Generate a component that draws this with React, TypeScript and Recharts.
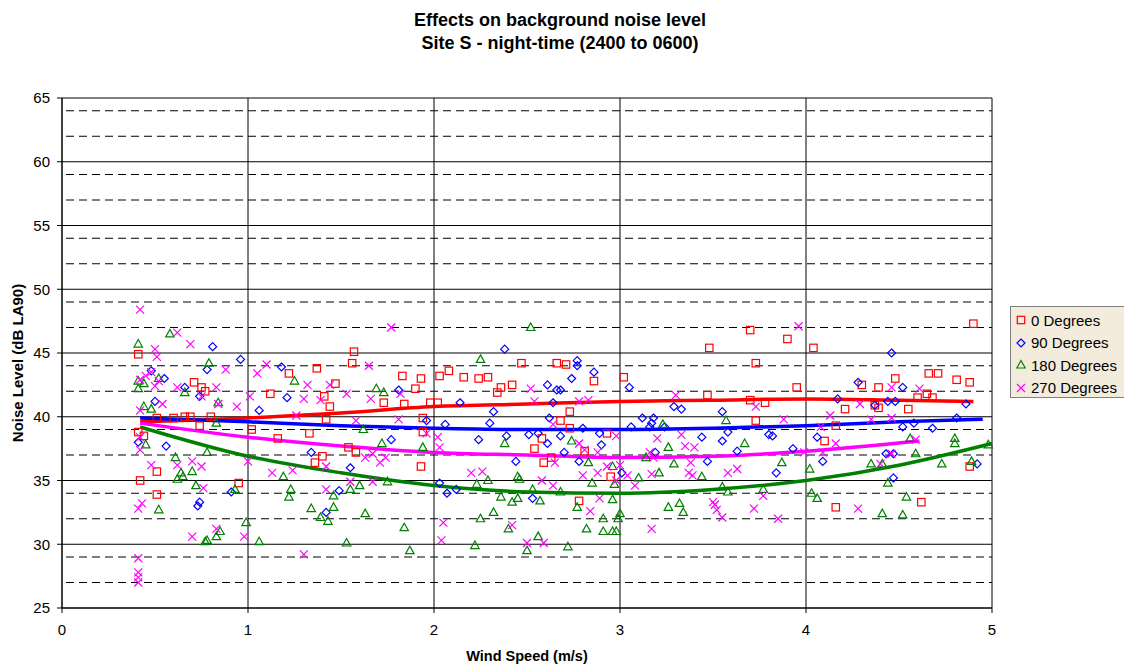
import {
  CartesianGrid,
  ComposedChart,
  Line,
  Scatter,
  XAxis,
  YAxis,
} from "recharts";

// ---- data ----
const xTicks = [0, 1, 2, 3, 4, 5];
const yTicks = [25, 30, 35, 40, 45, 50, 55, 60, 65];
const yMinor = [
  26, 27, 28, 29, 31, 32, 33, 34, 36, 37, 38, 39, 41, 42, 43, 44, 46, 47, 48, 49,
  51, 52, 53, 54, 56, 57, 58, 59, 61, 62, 63, 64,
];

const deg0X = [
  0.41, 0.71, 0.75, 0.77, 0.51, 0.6, 0.66, 0.69, 0.8, 0.74, 0.41, 0.44, 1.02, 0.51, 0.42, 0.51, 0.95,
  1.57, 1.56, 1.22, 1.37, 1.47, 1.83, 1.93, 1.9, 2.03, 1.12, 1.41, 1.44, 1.73, 1.84, 1.98, 2.02, 1.42,
  1.94, 1.33, 1.16, 1.94, 1.54, 1.58, 1.4, 1.36, 1.93,
  2.08, 2.16, 2.24, 2.29, 2.47, 2.66, 2.71, 2.86, 3.02, 2.42, 2.36, 2.34, 2.73, 2.68, 2.73, 2.58, 2.54,
  2.81, 2.63, 2.59, 2.93, 2.95, 2.78,
  3.7, 3.9, 3.48, 4.04, 3.73, 3.95, 3.47, 3.7, 3.78, 3.73,
  4.9, 4.66, 4.71, 4.48, 4.81, 4.88, 4.3, 4.39, 4.65, 4.68, 4.6, 4.37, 4.39, 4.55, 4.21, 4.16, 4.1,
  4.88, 4.16, 4.62,
];
const deg0Y = [
  44.9, 42.7, 42.3, 42.0, 39.9, 39.9, 40.0, 40.0, 40.0, 39.3, 38.8, 38.5, 39.0, 35.7, 35.0, 33.9, 34.8,
  45.1, 44.2, 43.4, 43.8, 42.6, 43.2, 43.0, 42.2, 43.2, 41.8, 41.6, 40.8, 41.1, 41.0, 41.1, 41.1, 39.8,
  39.9, 38.7, 38.3, 38.8, 37.6, 37.2, 36.9, 36.4, 36.1,
  43.6, 43.1, 43.0, 43.1, 44.2, 44.2, 44.1, 42.8, 43.1, 42.5, 42.3, 41.9, 40.4, 39.7, 39.1, 38.3, 37.5,
  37.3, 36.8, 36.4, 38.7, 35.3, 33.4,
  46.8, 46.1, 45.4, 45.4, 44.2, 42.3, 41.7, 41.3, 41.1, 39.7,
  47.3, 43.4, 43.4, 43.0, 42.9, 42.7, 42.5, 42.3, 41.8, 41.5, 41.5, 40.9, 40.7, 40.6, 40.6, 39.3, 38.1,
  36.1, 32.9, 33.3,
];

const deg90X = [
  0.81, 0.96, 0.78, 0.48, 0.55, 0.66, 0.74, 0.5, 0.41, 0.56, 0.91, 0.74, 0.73,
  1.18, 1.21, 1.06, 1.81, 1.96, 1.77, 1.34, 1.55, 1.49, 1.42, 2.03,
  2.38, 2.77, 2.77, 2.86, 2.74, 2.61, 2.66, 2.68, 2.64, 2.14, 2.32, 2.3, 2.06, 2.62, 2.8, 2.89, 2.39,
  2.51, 2.56, 2.68, 2.24, 2.61, 2.9, 2.7, 2.78, 2.44, 3.01, 2.07, 2.12, 2.53, 3.05,
  3.29, 3.33, 3.55, 3.12, 3.18, 3.17, 3.16, 3.06, 3.24, 3.58, 3.44, 3.55, 3.8, 3.82, 3.93, 3.63, 3.19,
  3.47, 3.84,
  4.46, 4.28, 4.52, 4.17, 4.37, 4.44, 4.48, 4.86, 4.81, 4.58, 4.52, 4.68, 4.06, 4.09, 4.43, 4.47, 4.92,
  4.47,
];
const deg90Y = [
  45.5, 44.5, 43.7, 43.6, 43.0, 42.3, 41.6, 41.2, 38.0, 37.7, 34.1, 33.3, 33.0,
  43.9, 41.5, 40.5, 42.1, 39.7, 38.2, 37.2, 36.0, 34.2, 32.5, 34.8,
  45.3, 44.4, 44.0, 43.5, 43.0, 42.5, 42.1, 42.1, 41.1, 41.1, 40.4, 39.5, 39.4, 39.9, 39.1, 38.7, 38.5,
  38.6, 38.7, 38.5, 38.2, 37.9, 37.8, 37.2, 36.5, 36.5, 35.6, 34.0, 34.3, 33.6, 42.3,
  40.8, 40.6, 40.4, 39.9, 39.9, 39.5, 39.2, 39.2, 39.2, 38.8, 38.4, 38.1, 38.6, 38.5, 37.5, 37.3, 37.2,
  36.5, 35.6,
  45.0, 42.7, 42.3, 41.4, 40.9, 41.2, 41.2, 41.0, 39.9, 39.5, 39.2, 39.1, 38.4, 36.5, 37.1, 37.1, 36.3,
  35.2,
];

const deg180X = [
  0.58, 0.41, 0.79, 0.41, 0.44, 0.52, 0.41, 0.66, 0.84, 0.44, 0.48, 0.83, 0.45, 0.78, 0.61, 0.7, 0.64,
  0.62, 0.65, 0.72, 0.93, 0.52, 0.99, 0.85, 0.83, 0.77, 0.78,
  1.25, 1.69, 1.73, 1.62, 1.72, 1.94, 1.19, 1.23, 1.22, 1.75, 1.6, 1.55, 1.46, 1.46, 1.34, 1.39, 1.43,
  1.63, 1.84, 1.06, 1.53, 1.87,
  2.52, 2.25, 2.38, 2.74, 2.83, 2.23, 2.29, 2.45, 2.46, 2.85, 2.97, 2.96, 2.36, 2.45, 2.42, 2.57, 2.53,
  2.68, 2.77, 2.96, 2.32, 2.25, 2.4, 2.91, 2.99, 3.0, 2.82, 2.91, 2.96, 2.98, 2.56, 2.22, 2.5, 2.72,
  3.57, 3.23, 3.26, 3.67, 3.14, 3.29, 3.21, 3.1, 3.44, 3.87, 4.02, 3.55, 3.58, 3.77, 4.03, 4.06, 3.26,
  3.32, 3.34,
  4.56, 4.8, 4.8, 4.98, 4.59, 4.73, 4.89, 4.35, 4.41, 4.44, 4.54, 4.41, 4.52,
];
const deg180Y = [
  46.5, 45.7, 44.2, 42.8, 42.6, 43.0, 42.2, 41.9, 41.1, 40.8, 40.6, 39.5, 37.8, 37.2, 36.8, 35.7, 35.6,
  35.1, 35.3, 34.6, 34.3, 32.7, 31.7, 31.0, 30.6, 30.2, 30.3,
  42.8, 42.2, 41.9, 39.0, 37.9, 37.6, 35.3, 34.3, 33.7, 34.9, 34.6, 34.3, 33.8, 32.9, 32.8, 32.1, 31.8,
  32.4, 31.3, 30.2, 30.1, 29.5,
  47.0, 44.5, 37.9, 38.1, 36.4, 34.7, 35.0, 35.3, 35.1, 34.8, 34.7, 36.1, 33.7, 33.6, 33.3, 33.4, 34.3,
  34.1, 32.9, 33.5, 32.5, 32.0, 31.2, 32.0, 32.0, 32.4, 31.2, 31.0, 31.0, 31.0, 30.6, 29.9, 29.5, 29.8,
  39.7, 39.4, 37.6, 37.9, 36.8, 36.3, 35.6, 35.2, 35.3, 36.4, 35.9, 34.5, 34.1, 34.3, 34.0, 33.6, 32.9,
  33.2, 32.5,
  38.3, 38.3, 37.9, 37.8, 37.1, 36.3, 36.5, 36.3, 36.3, 34.8, 33.7, 32.4, 32.3,
];

const deg270X = [
  0.42, 0.62, 0.5, 0.69, 0.51, 0.88, 0.42, 0.45, 0.48, 0.52, 0.5, 0.62, 0.75, 0.83, 1.01, 0.54, 0.84,
  0.94, 0.42, 0.42, 0.42, 0.48, 0.62, 0.7, 0.75, 1.0, 0.76, 0.43, 0.41, 0.83, 0.7, 0.98, 0.41, 0.41,
  0.41, 0.41,
  1.77, 1.1, 1.05, 1.65, 1.32, 1.44, 1.3, 1.39, 1.53, 1.66, 1.82, 1.26, 1.58, 1.81, 1.96, 2.02, 1.42,
  1.63, 1.67, 1.74, 1.71, 1.13, 1.24, 1.55, 1.67, 1.42, 1.3,
  2.52, 2.54, 2.78, 2.83, 2.64, 2.03, 2.78, 2.81, 2.88, 2.98, 2.65, 2.93, 3.0, 2.2, 2.26, 2.8, 2.88,
  2.58, 2.64, 2.98, 2.89, 2.84, 2.05, 2.42, 2.04, 2.5, 2.59,
  3.96, 3.3, 3.73, 3.88, 3.33, 3.2, 3.35, 3.4, 3.16, 3.18, 3.38, 3.37, 3.39, 3.17, 3.58, 3.63, 3.99,
  3.04, 3.08, 3.77, 3.5, 3.51, 3.52, 3.55, 3.72, 3.85, 3.17,
  4.46, 4.61, 4.29, 4.13, 4.35, 4.46, 4.08, 4.59, 4.16, 4.09, 4.46, 4.4, 4.28,
];
const deg270Y = [
  48.4, 46.6, 45.3, 45.7, 44.7, 43.7, 42.9, 43.2, 43.5, 42.8, 42.4, 42.3, 41.6, 42.3, 41.6, 41.0, 41.0,
  40.8, 40.5, 38.4, 37.4, 36.2, 36.2, 36.5, 36.1, 36.5, 34.4, 33.2, 32.8, 31.2, 30.6, 30.6, 28.9, 27.8,
  27.0, 27.4,
  47.0, 44.1, 43.4, 44.0, 42.5, 42.5, 41.4, 41.3, 41.8, 41.4, 41.8, 40.1, 39.7, 39.8, 38.7, 38.4, 36.1,
  36.8, 37.1, 36.8, 36.4, 35.6, 35.8, 34.9, 34.9, 34.3, 29.2,
  42.2, 41.2, 41.2, 41.3, 39.4, 37.6, 37.9, 37.4, 37.2, 38.5, 36.4, 36.1, 36.2, 35.6, 35.7, 35.4, 35.6,
  35.0, 34.6, 35.0, 33.6, 32.6, 31.7, 31.5, 30.3, 30.1, 30.1,
  47.1, 41.7, 40.8, 39.8, 38.6, 38.3, 37.7, 37.6, 37.2, 36.8, 36.4, 35.6, 35.4, 35.5, 35.6, 35.9, 37.2,
  35.4, 34.6, 33.8, 33.3, 33.1, 32.7, 32.1, 32.8, 32.0, 31.2,
  42.3, 42.2, 41.0, 40.1, 39.8, 39.9, 39.2, 38.2, 37.9, 37.2, 37.1, 36.3, 32.8,
];

// trend lines, read at a few wind speeds
const trend0X = [0.42, 1, 1.5, 2, 2.5, 3, 3.5, 4, 4.5, 4.9];
const trend0Y = [39.6, 39.9, 40.3, 40.8, 41.0, 41.2, 41.3, 41.4, 41.3, 41.2];
const trend90X = [0.42, 1, 1.5, 2, 2.5, 3, 3.5, 4, 4.5, 4.95];
const trend90Y = [39.9, 39.6, 39.3, 39.1, 39.0, 39.0, 39.1, 39.3, 39.6, 39.8];
const trend180X = [0.42, 1, 1.5, 2, 2.5, 3, 3.5, 4, 4.5, 5];
const trend180Y = [39.2, 36.9, 35.6, 34.6, 34.1, 34.0, 34.3, 35.0, 36.2, 37.9];
const trend270X = [0.42, 1, 1.5, 2, 2.5, 3, 3.5, 4, 4.61];
const trend270Y = [39.5, 38.4, 37.7, 37.2, 37.0, 36.8, 36.9, 37.3, 38.1];

const zip = (xs: number[], ys: number[]) => xs.map((x, i) => ({ x, y: ys[i] }));

type Kind = "square" | "diamond" | "triangle" | "x";

const series: { name: string; kind: Kind; color: string; pts: { x: number; y: number }[]; trend: { x: number; y: number }[] }[] = [
  { name: "0 Degrees", kind: "square", color: "#ff0000", pts: zip(deg0X, deg0Y), trend: zip(trend0X, trend0Y) },
  { name: "90 Degrees", kind: "diamond", color: "#0000ff", pts: zip(deg90X, deg90Y), trend: zip(trend90X, trend90Y) },
  { name: "180 Degrees", kind: "triangle", color: "#008000", pts: zip(deg180X, deg180Y), trend: zip(trend180X, trend180Y) },
  { name: "270 Degrees", kind: "x", color: "#ff00ff", pts: zip(deg270X, deg270Y), trend: zip(trend270X, trend270Y) },
];

const FONT = '"Liberation Sans", Arial, sans-serif';

function Marker({ kind, color, cx, cy }: { kind: Kind; color: string; cx: number; cy: number }) {
  const sw = 1.2;
  if (kind === "square")
    return <rect x={cx - 3.7} y={cy - 3.7} width={7.4} height={7.4} fill="none" stroke={color} strokeWidth={sw} />;
  if (kind === "diamond")
    return (
      <path
        d={`M${cx},${cy - 4}L${cx + 4},${cy}L${cx},${cy + 4}L${cx - 4},${cy}Z`}
        fill="none"
        stroke={color}
        strokeWidth={sw}
      />
    );
  if (kind === "triangle")
    return (
      <path
        d={`M${cx},${cy - 4.5}L${cx + 4.2},${cy + 3}L${cx - 4.2},${cy + 3}Z`}
        fill="none"
        stroke={color}
        strokeWidth={sw}
      />
    );
  return (
    <path
      d={`M${cx - 4},${cy - 4}L${cx + 4},${cy + 4}M${cx - 4},${cy + 4}L${cx + 4},${cy - 4}`}
      stroke={color}
      strokeWidth={sw}
    />
  );
}

export default function App() {
  return (
    <div
      style={{
        position: "absolute",
        left: 0,
        top: 0,
        width: 1124,
        height: 665,
        overflow: "hidden",
        background: "#fff",
        fontFamily: FONT,
      }}
    >
      <div
        style={{
          position: "absolute",
          left: 0,
          top: 9,
          width: 1120,
          textAlign: "center",
          fontWeight: "bold",
          fontSize: 18,
          lineHeight: "23px",
        }}
      >
        Effects on background noise level
        <br />
        Site S - night-time (2400 to 0600)
      </div>

      <ComposedChart
        width={1124}
        height={665}
        margin={{ top: 98, right: 132, bottom: 27, left: 12 }}
        style={{ position: "absolute", left: 0, top: 0 }}
      >
        <CartesianGrid
          horizontalValues={yMinor}
          vertical={false}
          stroke="#000"
          strokeDasharray="8 5"
          strokeDashoffset={-4}
        />
        <CartesianGrid horizontalValues={yTicks} verticalValues={xTicks} stroke="#000" />
        <XAxis
          type="number"
          dataKey="x"
          domain={[0, 5]}
          ticks={xTicks}
          height={30}
          tickSize={5}
          tickMargin={11}
          stroke="#000"
          tick={{ fill: "#000", fontSize: 15, fontFamily: FONT }}
          label={{
            content: () => (
              <text x={527} y={661} textAnchor="middle" fontWeight="bold" fontSize={14.5} fontFamily={FONT}>
                Wind Speed (m/s)
              </text>
            ),
          }}
        />
        <YAxis
          type="number"
          dataKey="y"
          domain={[25, 65]}
          ticks={yTicks}
          width={50}
          tickSize={5}
          tickMargin={7}
          stroke="#000"
          tick={{ fill: "#000", fontSize: 15, fontFamily: FONT }}
          label={{
            content: () => (
              <text
                x={17}
                y={363}
                transform="rotate(-90 17 363)"
                textAnchor="middle"
                dominantBaseline="central"
                fontWeight="bold"
                fontSize={15}
                fontFamily={FONT}
              >
                Noise Level (dB LA90)
              </text>
            ),
          }}
        />
        {series.map((s) => (
          <Scatter
            key={s.name}
            name={s.name}
            data={s.pts}
            dataKey="y"
            isAnimationActive={false}
            shape={(p: any) => <Marker kind={s.kind} color={s.color} cx={p.cx} cy={p.cy} />}
          />
        ))}
        {series.map((s) => (
          <Line
            key={s.name + "-trend"}
            data={s.trend}
            dataKey="y"
            type="monotone"
            stroke={s.color}
            strokeWidth={3.5}
            dot={false}
            activeDot={false}
            isAnimationActive={false}
            legendType="none"
          />
        ))}
      </ComposedChart>

      <div
        style={{
          position: "absolute",
          left: 1010,
          top: 306,
          width: 130,
          height: 92,
          boxSizing: "border-box",
          background: "#f3ecdd",
          border: "1px solid #808080",
          paddingTop: 2,
          fontSize: 15,
        }}
      >
        {series.map((s) => (
          <div key={s.name} style={{ height: 22.5, display: "flex", alignItems: "center" }}>
            <svg width={20} height={14} style={{ flex: "none" }}>
              <Marker kind={s.kind} color={s.color} cx={10} cy={7} />
            </svg>
            <span>{s.name}</span>
          </div>
        ))}
      </div>
    </div>
  );
}
